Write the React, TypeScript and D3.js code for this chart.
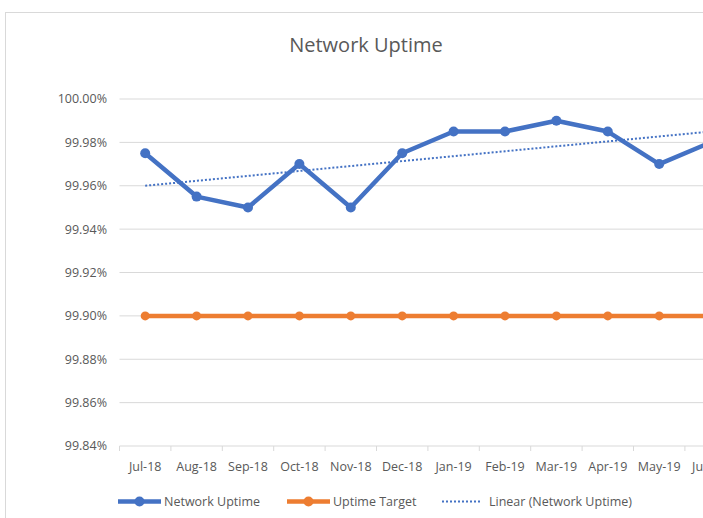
import React from 'react';
import * as d3 from 'd3';

const months = ['Jul-18', 'Aug-18', 'Sep-18', 'Oct-18', 'Nov-18', 'Dec-18', 'Jan-19', 'Feb-19', 'Mar-19', 'Apr-19', 'May-19', 'Jun-19'];
const uptime = [99.975, 99.955, 99.95, 99.97, 99.95, 99.975, 99.985, 99.985, 99.99, 99.985, 99.97, 99.98];
const target = [99.9, 99.9, 99.9, 99.9, 99.9, 99.9, 99.9, 99.9, 99.9, 99.9, 99.9, 99.9];
const yTicks = [99.84, 99.86, 99.88, 99.9, 99.92, 99.94, 99.96, 99.98, 100.0];

const BLUE = '#4472C4';
const ORANGE = '#ED7D31';
const GRID = '#d9d9d9';
const TEXT = '#595959';
const FONT = '"Open Sans", "Liberation Sans", sans-serif';

const W = 703;
const H = 518;
const plot = { left: 119.5, top: 99, bottom: 446 };
const bandW = 51.4;

export default function App() {
  const x = d3.scaleBand<string>()
    .domain(months)
    .range([plot.left, plot.left + bandW * months.length])
    .paddingInner(0)
    .paddingOuter(0);
  const cx = (m: string) => (x(m) as number) + x.bandwidth() / 2;

  const y = d3.scaleLinear().domain([99.84, 100.0]).range([plot.bottom, plot.top]);

  const line = d3.line<number>()
    .x((_, i) => cx(months[i]))
    .y(d => y(d));

  // linear trend (least squares) over the uptime series
  const n = uptime.length;
  const xm = d3.mean(d3.range(n)) as number;
  const ym = d3.mean(uptime) as number;
  const slope = d3.sum(uptime, (v, i) => (i - xm) * (v - ym)) / d3.sum(d3.range(n), i => (i - xm) ** 2);
  const trend = d3.range(n).map(i => ym + slope * (i - xm));

  const right = plot.left + bandW * months.length;

  return (
    <svg width={W} height={H} style={{ position: 'absolute', left: 0, top: 0, background: '#fff' }}
      fontFamily={FONT}>
      <rect x={5.5} y={12.5} width={740} height={540} fill="#fff" stroke={GRID} strokeWidth={1} />

      <text x={366} y={52} textAnchor="middle" fontSize={20} fill={TEXT}>Network Uptime</text>

      {/* gridlines + y labels */}
      {yTicks.map(t => (
        <g key={t}>
          {t !== 99.84 && (
            <line x1={plot.left} x2={right} y1={y(t)} y2={y(t)} stroke={GRID} strokeWidth={1} />
          )}
          <text x={107} y={y(t)} dy="0.35em" textAnchor="end" fontSize={12.5} fill={TEXT}>
            {t.toFixed(2)}%
          </text>
        </g>
      ))}

      {/* x axis */}
      <line x1={plot.left} x2={right} y1={plot.bottom} y2={plot.bottom} stroke={GRID} strokeWidth={1} />
      {months.concat(['']).map((m, i) => {
        const tx = plot.left + i * x.bandwidth();
        return <line key={'t' + i} x1={tx} x2={tx} y1={plot.bottom} y2={plot.bottom + 5} stroke={GRID} />;
      })}
      {months.map(m => (
        <text key={m} x={cx(m)} y={471} textAnchor="middle" fontSize={12.5} fill={TEXT}>{m}</text>
      ))}

      {/* target */}
      <path d={line(target) as string} fill="none" stroke={ORANGE} strokeWidth={4.5} strokeLinejoin="round" />
      {target.map((v, i) => (
        <circle key={'o' + i} cx={cx(months[i])} cy={y(v)} r={4.5} fill={ORANGE} />
      ))}

      {/* uptime */}
      <path d={line(uptime) as string} fill="none" stroke={BLUE} strokeWidth={4.5} strokeLinejoin="round" />
      {uptime.map((v, i) => (
        <circle key={'b' + i} cx={cx(months[i])} cy={y(v)} r={5} fill={BLUE} />
      ))}

      {/* trend */}
      <path d={line(trend) as string} fill="none" stroke={BLUE} strokeWidth={2} strokeDasharray="2,2" />

      {/* legend */}
      <g fontSize={12.5} fill={TEXT}>
        <line x1={118} x2={161} y1={501.5} y2={501.5} stroke={BLUE} strokeWidth={4.5} />
        <circle cx={139.5} cy={501.5} r={5} fill={BLUE} />
        <text x={164} y={501.5} dy="0.35em">Network Uptime</text>

        <line x1={287} x2={330} y1={501.5} y2={501.5} stroke={ORANGE} strokeWidth={4.5} />
        <circle cx={308.5} cy={501.5} r={5} fill={ORANGE} />
        <text x={333} y={501.5} dy="0.35em">Uptime Target</text>

        <line x1={442} x2={482} y1={501.5} y2={501.5} stroke={BLUE} strokeWidth={2} strokeDasharray="2,2" />
        <text x={489} y={501.5} dy="0.35em">Linear (Network Uptime)</text>
      </g>
    </svg>
  );
}
